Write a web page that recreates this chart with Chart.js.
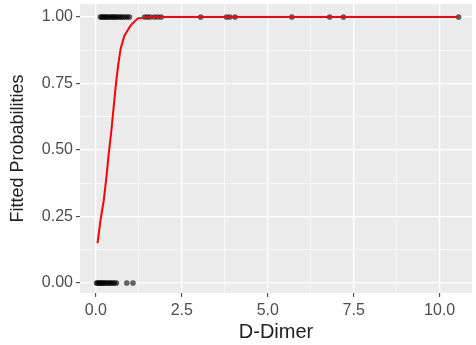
<!DOCTYPE html>
<html>
<head>
<meta charset="utf-8">
<script src="https://cdn.jsdelivr.net/npm/chart.js@4.4.1/dist/chart.umd.min.js"></script>
<style>
  body { margin: 0; background: #ffffff; }
  #wrap { width: 476px; height: 345px; }
</style>
</head>
<body>
<div id="wrap"><canvas id="fit" width="476" height="345"></canvas></div>
<script>
    "use strict";

    // Observed D-Dimer values, outcome 0 and outcome 1
    var zeroX = [0.02, 0.05, 0.08, 0.11, 0.14, 0.17, 0.2, 0.23, 0.26, 0.3, 0.34, 0.38, 0.42, 0.46, 0.5, 0.55, 0.6, 0.9, 1.08];
    var oneX = [0.13, 0.17, 0.2, 0.24, 0.28, 0.31, 0.35, 0.4, 0.44, 0.48, 0.52, 0.56, 0.6, 0.65, 0.7, 0.75, 0.8, 0.86, 0.92, 0.98,
                1.42, 1.5, 1.58, 1.7, 1.8, 1.9, 3.05, 3.8, 3.9, 4.05, 5.7, 6.8, 7.2, 10.55];

    // Fitted probabilities (red curve)
    var curveX = [0.05, 0.14, 0.23, 0.31, 0.37, 0.45, 0.57, 0.64, 0.72, 0.83, 1.02, 1.22, 1.5, 1.9, 10.55];
    var curveP = [0.15, 0.24, 0.31, 0.40, 0.48, 0.57, 0.73, 0.81, 0.88, 0.93, 0.97, 0.995, 1.0, 1.0, 1.0];

    // Axis ticks
    var xMajor = [0, 2.5, 5, 7.5, 10];
    var xLabels = ["0.0", "2.5", "5.0", "7.5", "10.0"];
    var xMinor = [1.25, 3.75, 6.25, 8.75];
    var yMajor = [0, 0.25, 0.5, 0.75, 1];
    var yLabels = ["0.00", "0.25", "0.50", "0.75", "1.00"];
    var yMinor = [0.125, 0.375, 0.625, 0.875];

    function toPoints(xs, ys) {
        return xs.map(function (x, i) {
            return {x: x, y: Array.isArray(ys) ? ys[i] : ys};
        });
    }

    function tickList(major, minor) {
        return major.concat(minor).sort(function (a, b) { return a - b; })
            .map(function (v) { return {value: v}; });
    }

    function isMajor(list, v) {
        return list.some(function (m) { return Math.abs(m - v) < 1e-9; });
    }

    // grey ggplot panel
    var panelBg = {
        id: "panelBg",
        beforeDraw: function (chart) {
            var a = chart.chartArea, c = chart.ctx;
            c.save();
            c.fillStyle = "#ebebeb";
            c.fillRect(a.left, a.top, a.right - a.left, a.bottom - a.top);
            c.restore();
        }
    };

    Chart.defaults.font.family = "'Liberation Sans', Arial, sans-serif";

    var ctx = document.getElementById("fit").getContext("2d");
    var fitChart = new Chart(ctx, {
        type: "scatter",
        data: {
            datasets: [{
                    label: "y = 0",
                    data: toPoints(zeroX, 0),
                    backgroundColor: "rgba(0, 0, 0, 0.6)",
                    borderWidth: 0,
                    pointRadius: 2.8,
                    order: 2
                },
                {
                    label: "y = 1",
                    data: toPoints(oneX, 1),
                    backgroundColor: "rgba(0, 0, 0, 0.6)",
                    borderWidth: 0,
                    pointRadius: 2.8,
                    order: 2
                },
                {
                    label: "fitted",
                    data: toPoints(curveX, curveP),
                    showLine: true,
                    borderColor: "#ff0000",
                    borderWidth: 2,
                    pointRadius: 0,
                    tension: 0,
                    order: 1
                }
            ]
        },
        options: {
            responsive: false,
            animation: false,
            layout: {padding: {top: 4, right: 0, left: 0, bottom: 0}},
            plugins: {legend: {display: false}, tooltip: {enabled: false}},
            scales: {
                x: {
                    type: "linear",
                    min: -0.46,
                    max: 10.94,
                    afterBuildTicks: function (s) { s.ticks = tickList(xMajor, xMinor); },
                    afterFit: function (s) {
                        s.height = 52;
                        s.paddingLeft = 0;
                        s.paddingRight = 0;
                    },
                    border: {display: false},
                    grid: {
                        color: "#ffffff",
                        lineWidth: function (c) { return isMajor(xMajor, c.tick.value) ? 1.3 : 0.6; },
                        tickColor: function (c) { return isMajor(xMajor, c.tick.value) ? "#333333" : "rgba(0,0,0,0)"; },
                        tickLength: 4,
                        tickWidth: 1
                    },
                    ticks: {
                        autoSkip: false,
                        maxRotation: 0,
                        padding: 4,
                        color: "#4d4d4d",
                        font: {size: 16},
                        callback: function (v) {
                            var i = xMajor.indexOf(v);
                            return i >= 0 ? xLabels[i] : "";
                        }
                    },
                    title: {
                        display: true,
                        text: "D-Dimer",
                        color: "#222222",
                        font: {size: 20},
                        padding: {top: 0, bottom: 1}
                    }
                },
                y: {
                    type: "linear",
                    min: -0.0376,
                    max: 1.049,
                    afterBuildTicks: function (s) { s.ticks = tickList(yMajor, yMinor); },
                    afterFit: function (s) {
                        s.width = 80;
                        s.paddingTop = 0;
                        s.paddingBottom = 0;
                    },
                    border: {display: false},
                    grid: {
                        color: "#ffffff",
                        lineWidth: function (c) { return isMajor(yMajor, c.tick.value) ? 1.3 : 0.6; },
                        tickColor: function (c) { return isMajor(yMajor, c.tick.value) ? "#333333" : "rgba(0,0,0,0)"; },
                        tickLength: 4,
                        tickWidth: 1
                    },
                    ticks: {
                        autoSkip: false,
                        padding: 3,
                        color: "#4d4d4d",
                        font: {size: 16},
                        callback: function (v) {
                            var i = yMajor.indexOf(v);
                            return i >= 0 ? yLabels[i] : "";
                        }
                    },
                    title: {
                        display: true,
                        text: "Fitted Probabilities",
                        color: "#222222",
                        font: {size: 18},
                        padding: {top: 7, bottom: 0}
                    }
                }
            }
        },
        plugins: [panelBg]
    });
</script>
</body>
</html>
